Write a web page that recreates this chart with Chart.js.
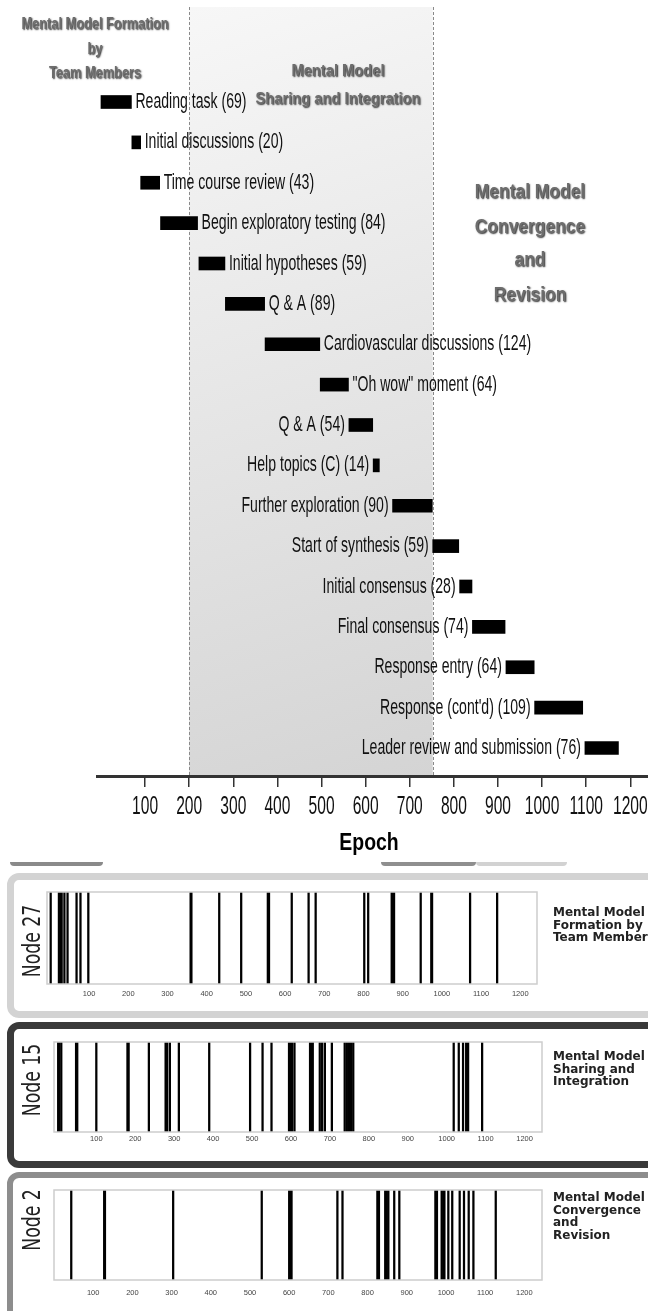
<!DOCTYPE html>
<html>
<head>
<meta charset="utf-8">
<script src="https://cdn.jsdelivr.net/npm/chart.js@4.4.1/dist/chart.umd.min.js"></script>
<style>
  html, body { margin: 0; padding: 0; background: #fff; }
  body { width: 648px; height: 1311px; position: relative; overflow: hidden; }
  canvas { position: absolute; left: 0; }
  .panel { position: absolute; left: 7px; width: 690px; box-sizing: border-box; border-radius: 12px; background: #fff; }
  .arc { position: absolute; height: 4px; border-radius: 0 0 4px 4px; }
</style>
</head>
<body>
<div class="arc" style="left:10px;top:862px;width:93px;background:#8a8a8a"></div>
<div class="arc" style="left:381px;top:862px;width:95px;background:#8f8f8f"></div>
<div class="arc" style="left:476px;top:862px;width:91px;background:#d2d2d2"></div>
<div class="panel" style="top:873px;height:145px;border:7px solid #d3d3d3"></div>
<div class="panel" style="top:1022px;height:146px;border:7px solid #3a3a3a"></div>
<div class="panel" style="top:1172px;height:150px;border:6px solid #8d8d8d"></div>

<canvas id="gantt" width="648" height="870" style="top:0"></canvas>
<canvas id="node27" width="648" height="145" style="top:873px"></canvas>
<canvas id="node15" width="648" height="146" style="top:1022px"></canvas>
<canvas id="node2" width="648" height="139" style="top:1172px"></canvas>

<script>
// activities of the team session, in order (label, start epoch, length in epochs)
const activities = [
  "Reading task", "Initial discussions", "Time course review", "Begin exploratory testing",
  "Initial hypotheses", "Q & A", "Cardiovascular discussions", "\"Oh wow\" moment",
  "Q & A", "Help topics (C)", "Further exploration", "Start of synthesis",
  "Initial consensus", "Final consensus", "Response entry", "Response (cont'd)",
  "Leader review and submission"
];
const startEpoch = [0, 70, 90, 135, 222, 282, 372, 497, 562, 617, 661, 752, 813, 842, 918, 983, 1097];
const durations = [69, 20, 43, 84, 59, 89, 124, 64, 54, 14, 90, 59, 28, 74, 64, 109, 76];
const epochTicks = [100, 200, 300, 400, 500, 600, 700, 800, 900, 1000, 1100, 1200];
const sharingPhase = [200, 752];

// communication events per node (epoch)
const node27Events = [2, 23, 27, 30, 37, 45, 68, 78, 98, 359, 361, 432, 488, 556, 559, 617, 660, 678,
  802, 812, 872, 875, 878, 946, 973, 975, 1072, 1141];
const node15Events = [2, 5, 10, 48, 51, 100, 180, 183, 235, 278, 282, 289, 312, 390, 495, 527, 550,
  595, 599, 603, 609, 649, 652, 656, 674, 680, 687, 705, 738, 743, 747, 752, 755, 760,
  1018, 1031, 1042, 1050, 1055, 1091];
const node2Events = [44, 128, 130, 304, 530, 600, 603, 606, 723, 736, 825, 829, 845, 849, 853, 868, 881,
  973, 977, 989, 993, 996, 1006, 1016, 1035, 1046, 1058, 1070, 1127];
const panelTicks = [100, 200, 300, 400, 500, 600, 700, 800, 900, 1000, 1100, 1200];

// draws text squeezed horizontally (condensed look)
function narrowText(ctx, text, x, y, font, sx, align, color) {
  ctx.save();
  ctx.font = font;
  ctx.fillStyle = color;
  ctx.textAlign = align;
  ctx.textBaseline = "middle";
  ctx.translate(x, y);
  ctx.scale(sx, 1);
  ctx.fillText(text, 0, 0);
  ctx.restore();
}

function phaseTitle(ctx, lines, cx, ys, size, sx) {
  ctx.save();
  ctx.shadowColor = "rgba(0,0,0,0.8)";
  ctx.shadowOffsetX = 1;
  ctx.shadowOffsetY = 1;
  ctx.shadowBlur = 1.5;
  lines.forEach((t, i) => narrowText(ctx, t, cx, ys[i], "bold " + size + "px 'Liberation Sans'", sx, "center", "#6d6d6d"));
  ctx.restore();
}

const ganttDecor = {
  id: "ganttDecor",
  beforeDraw(chart) {
    const { ctx, chartArea: a, scales: { x } } = chart;
    const x1 = x.getPixelForValue(sharingPhase[0]);
    const x2 = x.getPixelForValue(sharingPhase[1]);
    const g = ctx.createLinearGradient(x1, a.top, x2, a.bottom);
    g.addColorStop(0, "#f7f7f7");
    g.addColorStop(1, "#d4d4d4");
    ctx.save();
    ctx.fillStyle = g;
    ctx.fillRect(x1, a.top, x2 - x1, a.bottom - a.top);
    ctx.strokeStyle = "#8a8a8a";
    ctx.lineWidth = 1;
    ctx.setLineDash([3, 2]);
    [x1, x2].forEach(px => {
      ctx.beginPath();
      ctx.moveTo(Math.round(px) + 0.5, a.top);
      ctx.lineTo(Math.round(px) + 0.5, a.bottom);
      ctx.stroke();
    });
    ctx.restore();
  },
  afterDraw(chart) {
    const { ctx, chartArea: a, scales: { x } } = chart;
    const bars = chart.getDatasetMeta(0).data;
    bars.forEach((bar, i) => {
      const txt = activities[i] + " (" + durations[i] + ")";
      const lo = Math.min(bar.x, bar.base), hi = Math.max(bar.x, bar.base);
      if (i < 8) {
        narrowText(ctx, txt, hi + 4, bar.y, "22px 'Liberation Sans'", 0.64, "left", "#111");
      } else {
        narrowText(ctx, txt, lo - 4, bar.y, "22px 'Liberation Sans'", 0.64, "right", "#111");
      }
    });
    x.ticks.forEach(t => {
      narrowText(ctx, String(t.value), x.getPixelForValue(t.value), a.bottom + 31, "26px 'Liberation Sans'", 0.6, "center", "#111");
    });
    narrowText(ctx, "Epoch", 369, a.bottom + 67, "bold 24px 'Liberation Sans'", 0.81, "center", "#000");

    phaseTitle(ctx, ["Mental Model Formation", "by", "Team Members"], 95, [25, 50, 74], 16, 0.8);
    phaseTitle(ctx, ["Mental Model", "Sharing and Integration"], 338, [72, 100], 16, 0.92);
    phaseTitle(ctx, ["Mental Model", "Convergence", "and", "Revision"], 530, [192, 227, 260, 295], 21, 0.83);
  }
};

new Chart(document.getElementById("gantt"), {
  type: "bar",
  data: {
    datasets: [{
      data: activities.map((a, i) => ({ x: [startEpoch[i], startEpoch[i] + durations[i]], y: i })),
      backgroundColor: "#000",
      barThickness: 13
    }]
  },
  options: {
    indexAxis: "y",
    responsive: false,
    animation: false,
    layout: { padding: { left: 97, right: 0, top: 7, bottom: 0 } },
    plugins: { legend: { display: false }, tooltip: { enabled: false } },
    scales: {
      x: {
        type: "linear",
        min: -9,
        max: 1240,
        offset: false,
        afterBuildTicks: s => { s.ticks = epochTicks.map(v => ({ value: v })); },
        afterFit: s => { s.height = 94; },
        border: { display: true, color: "#333", width: 3 },
        grid: { drawOnChartArea: false, drawTicks: true, tickLength: 11, color: "#333", lineWidth: 1.5 },
        ticks: { display: false }
      },
      y: { type: "linear", reverse: true, min: -2.353, max: 16.694, offset: false, display: false }
    }
  },
  plugins: [ganttDecor]
});

function panelDecor(cfg) {
  return {
    id: "panelDecor",
    afterDraw(chart) {
      const { ctx, chartArea: a } = chart;
      ctx.save();
      ctx.strokeStyle = "#cdcdcd";
      ctx.lineWidth = 1.5;
      ctx.strokeRect(a.left, a.top, a.right - a.left, a.bottom - a.top);
      ctx.restore();

      ctx.save();
      ctx.translate(34, cfg.nodeY - cfg.top);
      ctx.rotate(-Math.PI / 2);
      ctx.scale(0.72, 1);
      ctx.font = "24px 'DejaVu Sans'";
      ctx.fillStyle = "#222";
      ctx.textAlign = "center";
      ctx.textBaseline = "middle";
      ctx.fillText(cfg.node, 0, 0);
      ctx.restore();

      ctx.save();
      ctx.font = "bold 12px 'DejaVu Sans'";
      ctx.fillStyle = "#222";
      ctx.textBaseline = "middle";
      cfg.caption.forEach((t, i) => ctx.fillText(t, 553, cfg.captionY - cfg.top + i * 12.5));
      ctx.restore();
    }
  };
}

function eventStrip(id, events, cfg) {
  new Chart(document.getElementById(id), {
    type: "bar",
    data: {
      datasets: [{
        data: events.map(v => ({ x: v, y: 1 })),
        backgroundColor: "#000",
        barThickness: 1.6
      }]
    },
    options: {
      responsive: false,
      animation: false,
      layout: { padding: { left: cfg.left, right: 648 - cfg.right, top: cfg.frameTop - cfg.top, bottom: 0 } },
      plugins: { legend: { display: false }, tooltip: { enabled: false } },
      scales: {
        x: {
          type: "linear",
          min: cfg.min,
          max: cfg.max,
          offset: false,
          afterBuildTicks: s => { s.ticks = panelTicks.map(v => ({ value: v })); },
          afterFit: s => { s.height = cfg.top + cfg.height - cfg.frameBottom; },
          border: { display: false },
          grid: { display: false, drawTicks: false },
          ticks: {
            font: { family: "'Liberation Sans', Arial", size: 7.5 },
            color: "#444",
            padding: cfg.tickPad,
            maxRotation: 0,
            autoSkip: false,
            callback: v => String(v)
          }
        },
        y: { min: 0, max: 1, display: false }
      }
    },
    plugins: [panelDecor(cfg)]
  });
}

eventStrip("node27", node27Events, {
  top: 873, height: 145, left: 47, right: 537, frameTop: 892, frameBottom: 984,
  min: -7.4, max: 1242.7, tickPad: 5, node: "Node 27", nodeY: 941,
  caption: ["Mental Model", "Formation by", "Team Members"], captionY: 913
});
eventStrip("node15", node15Events, {
  top: 1022, height: 146, left: 54, right: 542, frameTop: 1042, frameBottom: 1132,
  min: -8.7, max: 1244.8, tickPad: 2, node: "Node 15", nodeY: 1080,
  caption: ["Mental Model", "Sharing and", "Integration"], captionY: 1057
});
eventStrip("node2", node2Events, {
  top: 1172, height: 139, left: 54, right: 542, frameTop: 1190, frameBottom: 1280,
  min: 0, max: 1245, tickPad: 8, node: "Node 2", nodeY: 1220,
  caption: ["Mental Model", "Convergence", "and", "Revision"], captionY: 1198
});
</script>
</body>
</html>
